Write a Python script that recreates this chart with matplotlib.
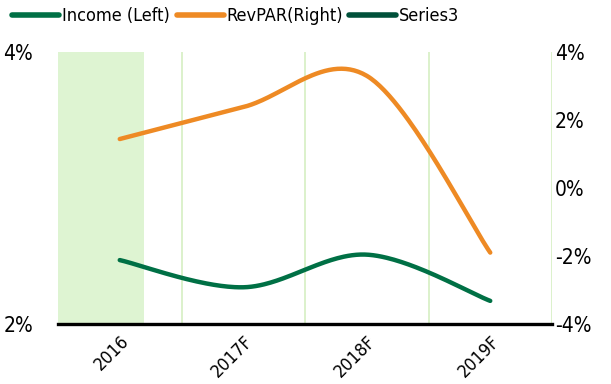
import numpy as np
import matplotlib
matplotlib.use("Agg")
import matplotlib.pyplot as plt
from matplotlib.lines import Line2D
from matplotlib import font_manager as fm

# Prefer a narrow / condensed sans face if one is installed
_narrow = [f for f in fm.fontManager.ttflist
           if f.style == 'normal' and f.weight in (400, 'normal', 'regular')
           and ('Narrow' in f.name or 'Condensed' in f.name
                or str(f.stretch) in ('condensed', 'semi-condensed',
                                      'extra-condensed', 'ultra-condensed'))]
if _narrow:
    FP = lambda size: fm.FontProperties(fname=_narrow[0].fname, size=size)
    SCALE = 1.0
else:
    FP = lambda size: fm.FontProperties(family=['Roboto', 'DejaVu Sans'], size=size)
    SCALE = 0.9

categories = ["2016", "2017F", "2018F", "2019F"]
income_left = [2.47, 2.27, 2.51, 2.17]       # %, left axis
revpar_right = [1.44, 2.38, 3.30, -1.90]     # %, right axis
series3 = []                                 # legend-only series

left_ticks = [2, 4]
right_ticks = [-4, -2, 0, 2, 4]

C_INCOME = "#007045"
C_REVPAR = "#ee8a24"
C_SERIES3 = "#00503a"
C_GRID = "#d6efc2"
C_SHADE = "#def4d2"


def smooth(xs, ys, xr, yr, n=60):
    """Parametric Catmull-Rom curve through the points (normalised space)."""
    x = (np.asarray(xs, float) - xr[0]) / (xr[1] - xr[0])
    y = (np.asarray(ys, float) - yr[0]) / (yr[1] - yr[0])
    P = np.column_stack([x, y])
    P = np.vstack([P[0], P, P[-1]])
    out = []
    t = np.linspace(0, 1, n)[:, None]
    for i in range(1, len(P) - 2):
        p0, p1, p2, p3 = P[i - 1], P[i], P[i + 1], P[i + 2]
        m1 = (p2 - p0) / 2
        m2 = (p3 - p1) / 2
        h00 = 2 * t**3 - 3 * t**2 + 1
        h10 = t**3 - 2 * t**2 + t
        h01 = -2 * t**3 + 3 * t**2
        h11 = t**3 - t**2
        out.append(h00 * p1 + h10 * m1 + h01 * p2 + h11 * m2)
    C = np.vstack(out)
    return (C[:, 0] * (xr[1] - xr[0]) + xr[0],
            C[:, 1] * (yr[1] - yr[0]) + yr[0])


fig = plt.figure(figsize=(6.11, 3.84), dpi=100)
ax = fig.add_axes([58 / 611, 1 - 324 / 384, (552 - 58) / 611, (324 - 52) / 384])
ax2 = ax.twinx()

xpos = np.arange(len(categories))
xlim = (-0.5, len(categories) - 0.5)
ylim_l = (left_ticks[0], left_ticks[-1])
ylim_r = (right_ticks[0], right_ticks[-1])

# highlighted actual-year band
ax.axvspan(-0.5, 0.2, color=C_SHADE, lw=0, zorder=0)
for b in np.arange(0.5, len(categories), 1.0):
    ax.axvline(b, color=C_GRID, lw=1.2, zorder=0.5)

sx, sy = smooth(xpos, income_left, xlim, ylim_l)
ax.plot(sx, sy, color=C_INCOME, lw=3.2, solid_capstyle='round', zorder=3)
sx2, sy2 = smooth(xpos, revpar_right, xlim, ylim_r)
ax2.plot(sx2, sy2, color=C_REVPAR, lw=3.2, solid_capstyle='round', zorder=3)
ax.plot(np.arange(len(series3)), series3, color=C_SERIES3)

ax.set_xlim(*xlim)
ax.set_ylim(*ylim_l)
ax2.set_ylim(*ylim_r)

ysize = 15 * SCALE
xsize = 13 * SCALE
lsize = 13 * SCALE

ax.set_yticks(left_ticks)
ax.set_yticklabels([f"{v}%" for v in left_ticks], fontproperties=FP(ysize))
ax2.set_yticks(right_ticks)
ax2.set_yticklabels([f"{v}%" for v in right_ticks], fontproperties=FP(ysize))
ax.set_xticks(xpos)
ax.set_xticklabels(categories, rotation=45, ha='right', rotation_mode='anchor',
                   fontproperties=FP(xsize))

for a in (ax, ax2):
    for s in ('top', 'left', 'right', 'bottom'):
        a.spines[s].set_visible(False)
    a.tick_params(length=0)
ax.spines['bottom'].set_visible(True)
ax.spines['bottom'].set_color('black')
ax.spines['bottom'].set_linewidth(2.4)
ax.spines['bottom'].set_zorder(4)

ax.tick_params(axis='y', pad=18)
ax2.tick_params(axis='y', pad=2)
ax.tick_params(axis='x', pad=6)

legend_items = [("Income (Left)", C_INCOME, 12),
                ("RevPAR(Right)", C_REVPAR, 177),
                ("Series3", C_SERIES3, 349)]
for label, color, x0 in legend_items:
    h = Line2D([], [], color=color, lw=4, solid_capstyle='round')
    fig.legend([h], [label], loc='center left',
               bbox_to_anchor=(x0 / 611, 1 - 16 / 384),
               frameon=False, prop=FP(lsize), handlelength=2.6,
               handletextpad=0.15, borderpad=0, borderaxespad=0)

fig.savefig("out.png", dpi=100)
